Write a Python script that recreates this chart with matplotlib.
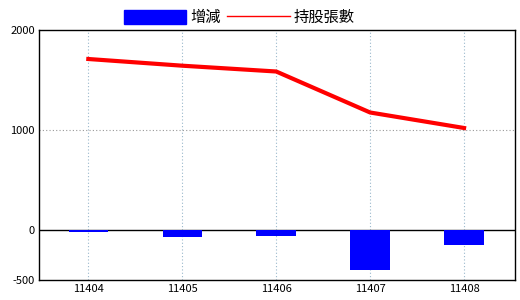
import matplotlib
matplotlib.use("Agg")
import matplotlib.pyplot as plt
from matplotlib.patches import Patch
from matplotlib.lines import Line2D
import numpy as np

plt.rcParams['font.family'] = ['Noto Sans CJK TC', 'DejaVu Sans']

# data
months = ['11404', '11405', '11406', '11407', '11408']
change = [-18, -67, -58, -400, -150]        # 增減
holdings = [1710, 1643, 1585, 1175, 1020]   # 持股張數
y_ticks = [-500, 0, 1000, 2000]

x = np.arange(len(months))

fig = plt.figure(figsize=(5.2, 3.0), dpi=100)
ax = fig.add_axes([0.075, 0.0667, 0.915, 0.8333])

# grid
for xi in x:
    ax.axvline(xi, color='#9ab8cc', lw=0.8, ls=(0, (1, 2)), zorder=0)
ax.axhline(1000, color='#999999', lw=0.8, ls=(0, (1, 2)), zorder=0)
ax.axhline(0, color='black', lw=1.0, zorder=1)

ax.bar(x, change, width=0.42, color='#0000ff', zorder=2)
ax.plot(x, holdings, color='#ff0000', lw=3.0, zorder=3)

ax.set_xlim(-0.525, 4.54)
ax.set_ylim(-500, 2000)
ax.set_xticks(x)
ax.set_xticklabels(months)
ax.set_yticks(y_ticks)
ax.set_yticklabels([str(v) for v in y_ticks])
ax.tick_params(length=0, labelsize=8, pad=3)
for s in ax.spines.values():
    s.set_linewidth(1.0)
    s.set_color('black')

handles = [Patch(color='#0000ff'), Line2D([], [], color='#ff0000', lw=1.0)]
fig.legend(handles, ['增減', '持股張數'], loc='upper center', bbox_to_anchor=(0.46, 1.015),
           ncol=2, frameon=False, fontsize=11, handlelength=4.1, handleheight=1.05,
           handletextpad=0.25, columnspacing=0.45)

fig.savefig('out.png', dpi=100)
